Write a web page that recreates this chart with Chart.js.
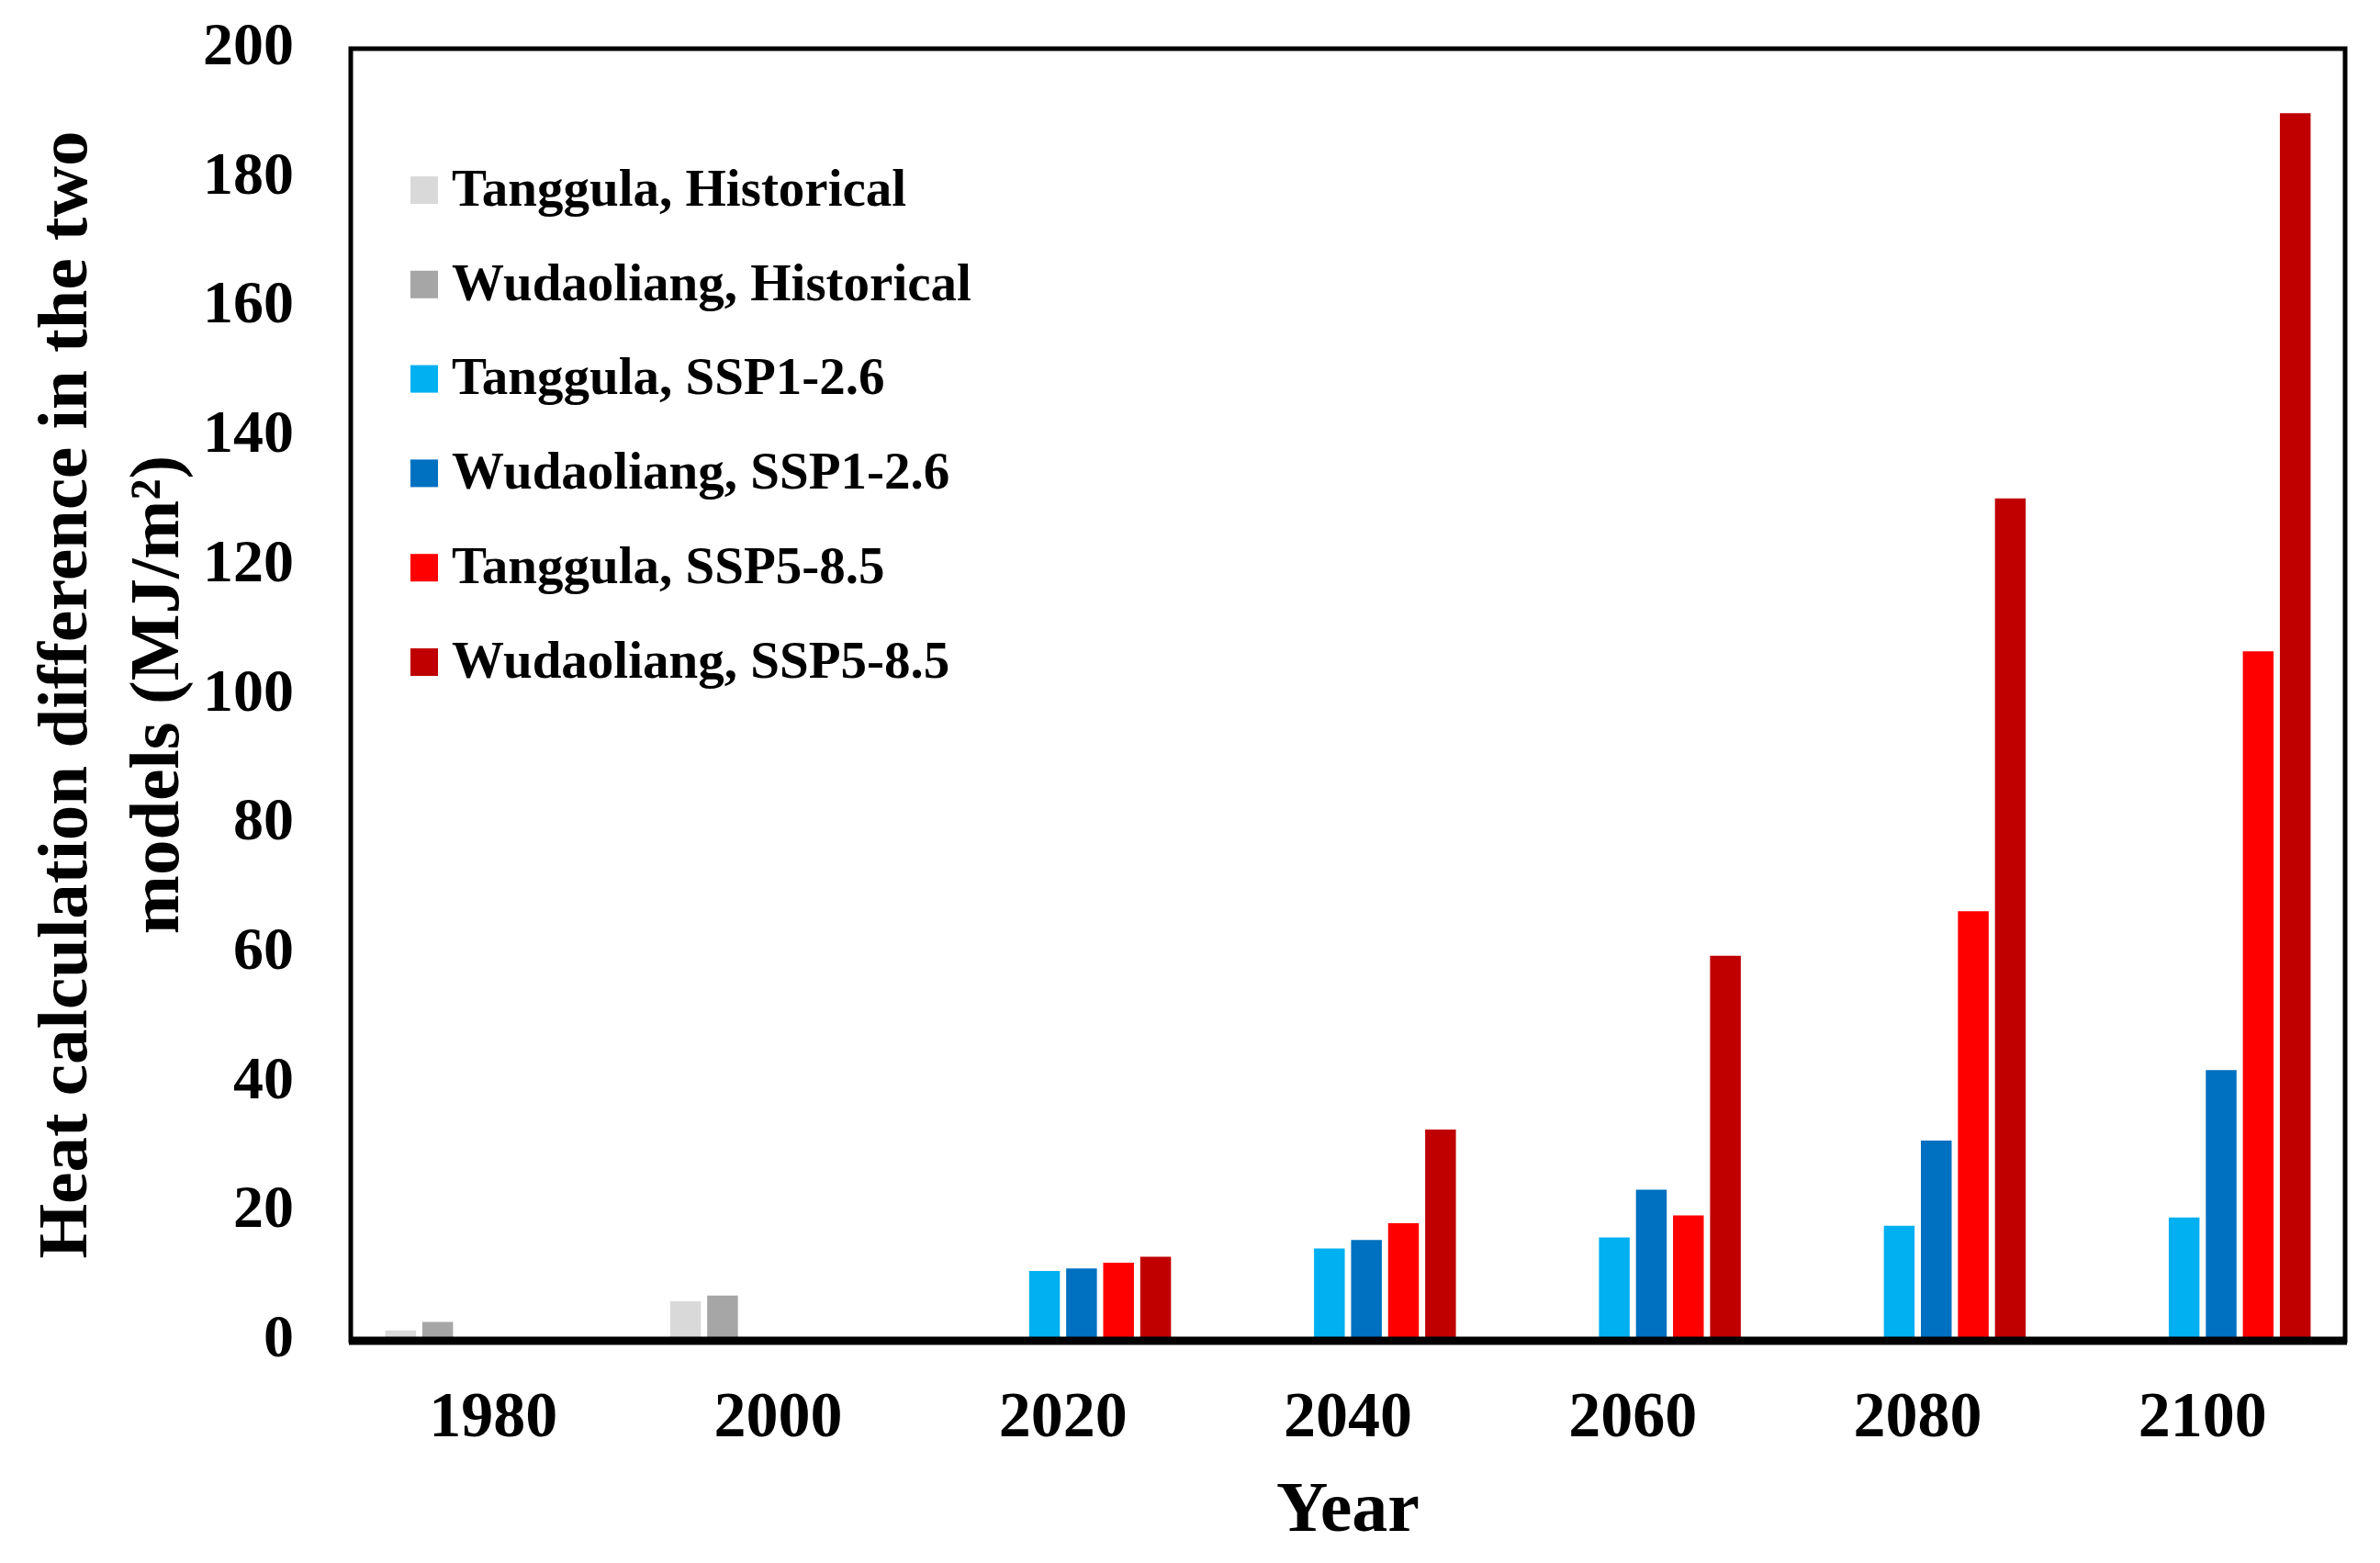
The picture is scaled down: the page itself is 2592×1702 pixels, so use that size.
<!DOCTYPE html>
<html>
<head>
<meta charset="utf-8">
<script src="https://cdn.jsdelivr.net/npm/chart.js@4.4.1/dist/chart.umd.min.js"></script>
<style>
  html, body { margin: 0; padding: 0; background: #ffffff; }
  #heatChart { display: block; }
</style>
</head>
<body>
<canvas id="heatChart" width="2592" height="1702"></canvas>
<script>
// data
const years = ['1980', '2000', '2020', '2040', '2060', '2080', '2100'];
const tanggulaHist = [1.6, 6.1, null, null, null, null, null];
const wudaoliangHist = [2.9, 7.0, null, null, null, null, null];
const tanggulaSsp126 = [null, null, 10.8, 14.3, 16.0, 17.8, 19.1];
const wudaoliangSsp126 = [null, null, 11.2, 15.6, 23.4, 31.0, 41.9];
const tanggulaSsp585 = [null, null, 12.1, 18.2, 19.4, 66.5, 106.7];
const wudaoliangSsp585 = [null, null, 13.0, 32.7, 59.6, 130.4, 190.0];
const yTicks = [0, 20, 40, 60, 80, 100, 120, 140, 160, 180, 200];

const serif = '"Liberation Serif", "Times New Roman", serif';

// frame round the plot area (thick bottom axis)
const framePlugin = {
    id: 'frame',
    afterDatasetsDraw(chart) {
        const { ctx, chartArea: a } = chart;
        ctx.save();
        ctx.strokeStyle = '#000000';
        ctx.lineWidth = 5;
        ctx.strokeRect(a.left, a.top, a.right - a.left, a.bottom - a.top);
        ctx.lineWidth = 9;
        ctx.beginPath();
        ctx.moveTo(a.left - 2, a.bottom);
        ctx.lineTo(a.right + 2, a.bottom);
        ctx.stroke();
        ctx.restore();
    }
};

// legend drawn inside the plot, top left, one item per row
const insideLegend = {
    id: 'insideLegend',
    afterDraw(chart) {
        const { ctx, chartArea: a } = chart;
        const x = a.left + 65;
        let y = a.top + 154;
        ctx.save();
        ctx.font = 'bold 57px ' + serif;
        ctx.textBaseline = 'middle';
        ctx.textAlign = 'left';
        chart.data.datasets.forEach(ds => {
            ctx.fillStyle = ds.backgroundColor;
            ctx.fillRect(x, y - 15, 30, 30);
            ctx.fillStyle = '#000000';
            ctx.fillText(ds.label, x + 45, y + 2);
            y += 102.8;
        });
        ctx.restore();
    }
};

function makeSet(label, data, color) {
    return {
        label: label,
        data: data,
        backgroundColor: color,
        borderWidth: 0,
        categoryPercentage: 0.78,
        barPercentage: 0.83
    };
}

const ctx = document.getElementById('heatChart');
new Chart(ctx, {
    type: 'bar',
    data: {
        labels: years,
        datasets: [
            makeSet('Tanggula, Historical', tanggulaHist, '#d9d9d9'),
            makeSet('Wudaoliang, Historical', wudaoliangHist, '#a6a6a6'),
            makeSet('Tanggula, SSP1-2.6', tanggulaSsp126, '#00b0f0'),
            makeSet('Wudaoliang, SSP1-2.6', wudaoliangSsp126, '#0070c0'),
            makeSet('Tanggula, SSP5-8.5', tanggulaSsp585, '#ff0000'),
            makeSet('Wudaoliang, SSP5-8.5', wudaoliangSsp585, '#c00000')
        ]
    },
    options: {
        responsive: false,
        devicePixelRatio: 1,
        animation: false,
        layout: {
            padding: { top: 53, right: 38, left: 0, bottom: 0 }
        },
        scales: {
            x: {
                grid: { display: false, drawTicks: false },
                border: { display: false },
                ticks: {
                    color: '#000000',
                    padding: 44,
                    font: { family: serif, size: 70, weight: 'bold' }
                },
                title: {
                    display: true,
                    text: 'Year',
                    color: '#000000',
                    padding: { top: 0, bottom: 8 },
                    font: { family: serif, size: 78, weight: 'bold' }
                },
                afterFit(scale) { scale.height = 242; }
            },
            y: {
                min: 0,
                max: 200,
                // tick marks are not drawn (grid hidden), the length only spaces the labels
                grid: { display: false, drawTicks: true, tickLength: 62 },
                border: { display: false },
                afterBuildTicks(scale) {
                    scale.ticks = yTicks.map(v => ({ value: v }));
                },
                ticks: {
                    color: '#000000',
                    padding: 0,
                    font: { family: serif, size: 66, weight: 'bold' }
                },
                title: {
                    display: true,
                    text: ['Heat calculation difference in the two', 'models (MJ/m\u00b2)'],
                    color: '#000000',
                    padding: { top: 24, bottom: 0 },
                    font: { family: serif, size: 77, weight: 'bold', lineHeight: 1.3 }
                },
                afterFit(scale) { scale.width = 382; }
            }
        },
        plugins: {
            legend: { display: false },
            tooltip: { enabled: false }
        }
    },
    plugins: [framePlugin, insideLegend]
});
</script>
</body>
</html>
